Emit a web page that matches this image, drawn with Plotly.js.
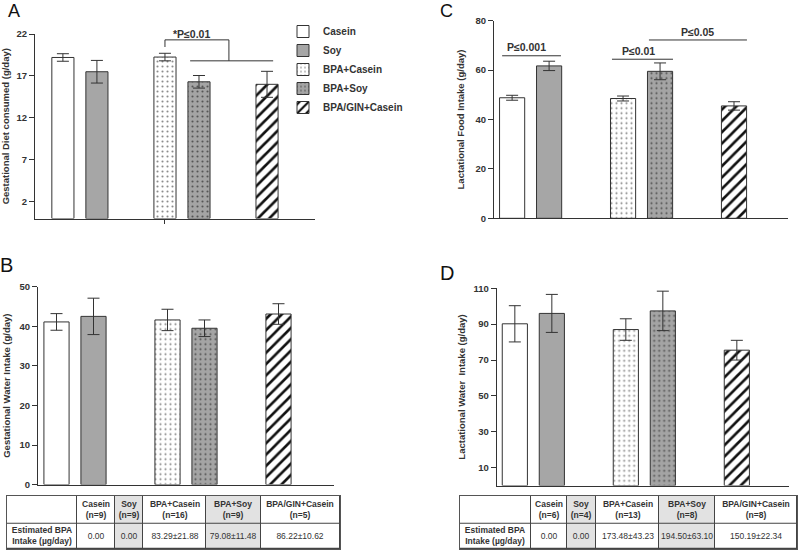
<!DOCTYPE html>
<html><head><meta charset="utf-8">
<script src="https://cdn.plot.ly/plotly-3.0.1.min.js"></script>
<style>html,body{margin:0;padding:0;background:#fff}#chart{width:800px;height:550px}</style>
</head><body><div id="chart"></div>
<script>
// ---------- data ----------
const groups = ['Casein', 'Soy', 'BPA+Casein', 'BPA+Soy', 'BPA/GIN+Casein'];

const gestDiet      = [19.2, 17.5, 19.25, 16.3, 16.0];
const gestDietErr   = [0.45, 1.35, 0.45, 0.75, 1.55];
const lactFood      = [48.8, 61.7, 48.5, 59.5, 45.5];
const lactFoodErr   = [1.0, 1.9, 1.0, 3.4, 1.7];
const gestWater     = [41.1, 42.5, 41.6, 39.5, 43.1];
const gestWaterErr  = [2.1, 4.6, 2.7, 2.1, 2.6];
const lactWater     = [90.2, 96.0, 87.0, 97.4, 75.5];
const lactWaterErr  = [10.1, 10.6, 6.0, 11.0, 5.5];

const gestN   = [9, 9, 16, 9, 5];
const lactN   = [6, 4, 13, 8, 8];
const gestBPA = ['0.00', '0.00', '83.29±21.88', '79.08±11.48', '86.22±10.62'];
const lactBPA = ['0.00', '0.00', '173.48±43.23', '194.50±63.10', '150.19±22.34'];
const bpaRowLabel = 'Estimated BPA<br>Intake (µg/day)';

const tickA = [2, 7, 12, 17, 22];
const tickD = [10, 30, 50, 70, 90, 110];

// ---------- layout helpers ----------
const W = 800, H = 550;
const FONT = 'Liberation Sans, Arial, Helvetica, sans-serif';
const INK = '#333';
const dx = (a, b) => [a / W, b / W];
const dy = (top, bottom) => [(H - bottom) / H, (H - top) / H];
const slots = [0, 1, 3, 4, 6];

const barStyles = [
  {color: '#ffffff', pattern: {shape: ''}},
  {color: '#a6a6a6', pattern: {shape: ''}},
  {color: '#ffffff', pattern: {shape: '.', fgcolor: '#8c8c8c', bgcolor: '#ffffff', size: 5, solidity: 0.14, fgopacity: 1}},
  {color: '#a4a4a4', pattern: {shape: '.', fgcolor: '#555555', bgcolor: '#a4a4a4', size: 5, solidity: 0.14, fgopacity: 1}},
  {color: '#ffffff', pattern: {shape: '/', fgcolor: '#111111', bgcolor: '#ffffff', size: 8, solidity: 0.33, fgopacity: 1}}
];

const panels = [
  {vals: gestDiet,  errs: gestDietErr,  sfx: '',  width: 0.65, legend: true},
  {vals: lactFood,  errs: lactFoodErr,  sfx: '2', width: 0.68, legend: false},
  {vals: gestWater, errs: gestWaterErr, sfx: '3', width: 0.68, legend: false},
  {vals: lactWater, errs: lactWaterErr, sfx: '4', width: 0.68, legend: false}
];

const traces = [];
panels.forEach(p => {
  groups.forEach((g, i) => {
    traces.push({
      type: 'bar', name: g,
      x: [slots[i]], y: [p.vals[i]],
      width: p.width,
      xaxis: 'x' + p.sfx, yaxis: 'y' + p.sfx,
      showlegend: p.legend,
      marker: {color: barStyles[i].color, pattern: barStyles[i].pattern, line: {color: INK, width: 1}},
      error_y: {type: 'data', array: [p.errs[i]], visible: true, color: INK, thickness: 1, width: 6},
      hoverinfo: 'skip'
    });
  });
});

// ---------- tables (heatmap cells) ----------
const colWidthsB = [70.3, 37.7, 28.3, 62.7, 54.7, 79.3];
const colWidthsD = [70.7, 36, 29, 63.6, 56, 81.7];
const rowHeights = [25.7, 27.6]; // bottom data row, top header row
const cum = arr => arr.reduce((acc, w) => { acc.push(acc[acc.length - 1] + w); return acc; }, [0]);

function tableTrace(nArr, bpaArr, widths, sfx) {
  const shade = [0].concat(groups.map(g => g.includes('Soy') ? 1 : 0));
  const header = [''].concat(groups.map((g, i) => '<b>' + g + '<br>(n=' + nArr[i] + ')</b>'));
  const row = ['<b>' + bpaRowLabel + '</b>'].concat(bpaArr);
  return {
    type: 'heatmap', x: cum(widths), y: cum(rowHeights),
    z: [shade, shade], text: [row, header], texttemplate: '%{text}',
    textfont: {family: FONT, size: 8.5, color: INK},
    colorscale: [[0, '#ffffff'], [1, '#e2e2e2']], zmin: 0, zmax: 1,
    showscale: false, xgap: 1, ygap: 1, hoverinfo: 'skip',
    xaxis: 'x' + sfx, yaxis: 'y' + sfx
  };
}
traces.push(tableTrace(gestN, gestBPA, colWidthsB, '5'));
traces.push(tableTrace(lactN, lactBPA, colWidthsD, '6'));

// ---------- axes ----------
const tickFont = {family: FONT, size: 9.5, color: INK, weight: 700};
const titleFont = {family: FONT, size: 9.5, color: INK, weight: 700};
function xAx(domain, range, anchor, extra) {
  return Object.assign({domain, range, anchor, showline: true, linecolor: INK, linewidth: 1,
    showgrid: false, zeroline: false, showticklabels: false, ticks: '', fixedrange: true}, extra || {});
}
function yAx(domain, range, anchor, title, standoff, extra) {
  return Object.assign({domain, range, anchor, showline: true, linecolor: INK, linewidth: 1,
    showgrid: false, zeroline: false, ticks: 'outside', ticklen: 5, tickcolor: INK, tickwidth: 1,
    tickfont: tickFont, fixedrange: true,
    title: {text: '<b>' + title + '</b>', font: titleFont, standoff: standoff}}, extra || {});
}
function tAx(domain, range, anchor) {
  return {domain, range, anchor, showline: true, mirror: true, linecolor: '#555', linewidth: 1,
    showgrid: false, zeroline: false, showticklabels: false, ticks: '', fixedrange: true};
}
const totB = colWidthsB.reduce((a, b) => a + b, 0);
const totD = colWidthsD.reduce((a, b) => a + b, 0);
const totH = rowHeights[0] + rowHeights[1];

const sigFont = {family: FONT, size: 10.5, color: INK, weight: 700};
const letterFont = (s) => ({family: FONT, size: s, color: '#111'});

const layout = {
  width: W, height: H, margin: {l: 0, r: 0, t: 0, b: 0},
  paper_bgcolor: '#fff', plot_bgcolor: 'rgba(0,0,0,0)',
  barmode: 'overlay', showlegend: true,
  font: {family: FONT, color: INK},
  legend: {x: 283 / W, y: 1 - 17 / H, xanchor: 'left', yanchor: 'top',
    font: {family: FONT, size: 10, color: INK, weight: 700}, bgcolor: 'rgba(0,0,0,0)',
    tracegroupgap: 0, itemclick: false, itemdoubleclick: false},
  xaxis:  xAx(dx(35, 315), [-0.82, 7.41], 'y', {ticks: 'outside', tickvals: [3], ticklen: 4, tickcolor: INK}),
  yaxis:  yAx(dy(34, 218.5), [0, 22], 'x', 'Gestational Diet consumed (g/day)', 5, {tickvals: tickA}),
  xaxis2: xAx(dx(494, 788), [-0.49, 7.46], 'y2'),
  yaxis2: yAx(dy(20.7, 218.3), [0, 80], 'x2', 'Lactational Food Intake (g/day)', 9, {dtick: 20, tick0: 0}),
  xaxis3: xAx(dx(38, 334), [-0.5, 7.5], 'y3'),
  yaxis3: yAx(dy(286.7, 484.6), [0, 50], 'x3', 'Gestational Water Intake (g/day)', 7, {dtick: 10, tick0: 0}),
  xaxis4: xAx(dx(496.7, 789), [-0.49, 7.41], 'y4'),
  yaxis4: yAx(dy(288.3, 485.6), [0, 110], 'x4', 'Lactational Water  Intake (g/day)', 6, {tickvals: tickD}),
  xaxis5: tAx(dx(7, 340), [0, totB], 'y5'),
  yaxis5: tAx(dy(495.7, 549), [0, totH], 'x5'),
  xaxis6: tAx(dx(460, 797), [0, totD], 'y6'),
  yaxis6: tAx(dy(495.7, 549), [0, totH], 'x6'),
  shapes: [
    {type: 'path', xref: 'x', yref: 'y', path: 'M3,20.45 L3,21.3 L4.88,21.3 L4.88,18.8', line: {color: INK, width: 1}},
    {type: 'line', xref: 'x', yref: 'y', x0: 3.74, x1: 6.18, y0: 18.8, y1: 18.8, line: {color: INK, width: 1}},
    {type: 'line', xref: 'x2', yref: 'y2', x0: -0.27, x1: 1.32, y0: 65.8, y1: 65.8, line: {color: INK, width: 1}},
    {type: 'line', xref: 'x2', yref: 'y2', x0: 2.70, x1: 4.35, y0: 64.4, y1: 64.4, line: {color: INK, width: 1}},
    {type: 'line', xref: 'x2', yref: 'y2', x0: 3.70, x1: 6.35, y0: 72.2, y1: 72.2, line: {color: INK, width: 1}},
    {type: 'rect', xref: 'x5', yref: 'y5', x0: 0, x1: totB, y0: 0, y1: totH, fillcolor: '#444', line: {width: 0}, layer: 'between'},
    {type: 'rect', xref: 'x6', yref: 'y6', x0: 0, x1: totD, y0: 0, y1: totH, fillcolor: '#444', line: {width: 0}, layer: 'between'}
  ],
  annotations: [
    {xref: 'paper', yref: 'paper', x: 13.5 / W, y: 1 - 11 / H, text: 'A', showarrow: false, font: letterFont(18), xanchor: 'center', yanchor: 'middle'},
    {xref: 'paper', yref: 'paper', x: 446 / W, y: 1 - 11 / H, text: 'C', showarrow: false, font: letterFont(18), xanchor: 'center', yanchor: 'middle'},
    {xref: 'paper', yref: 'paper', x: 6.5 / W, y: 1 - 265.5 / H, text: 'B', showarrow: false, font: letterFont(20), xanchor: 'center', yanchor: 'middle'},
    {xref: 'paper', yref: 'paper', x: 446.5 / W, y: 1 - 272.5 / H, text: 'D', showarrow: false, font: letterFont(20), xanchor: 'center', yanchor: 'middle'},
    {xref: 'x', yref: 'y', x: 3.79, y: 22, text: '*P≤0.01', showarrow: false, font: sigFont, xanchor: 'center', yanchor: 'middle'},
    {xref: 'x2', yref: 'y2', x: 0.38, y: 69.5, text: 'P≤0.001', showarrow: false, font: sigFont, xanchor: 'center', yanchor: 'middle'},
    {xref: 'x2', yref: 'y2', x: 3.43, y: 67.9, text: 'P≤0.01', showarrow: false, font: sigFont, xanchor: 'center', yanchor: 'middle'},
    {xref: 'x2', yref: 'y2', x: 5.0, y: 75.5, text: 'P≤0.05', showarrow: false, font: sigFont, xanchor: 'center', yanchor: 'middle'}
  ]
};

Plotly.newPlot('chart', traces, layout, {staticPlot: true, displayModeBar: false});
</script>
</body></html>
